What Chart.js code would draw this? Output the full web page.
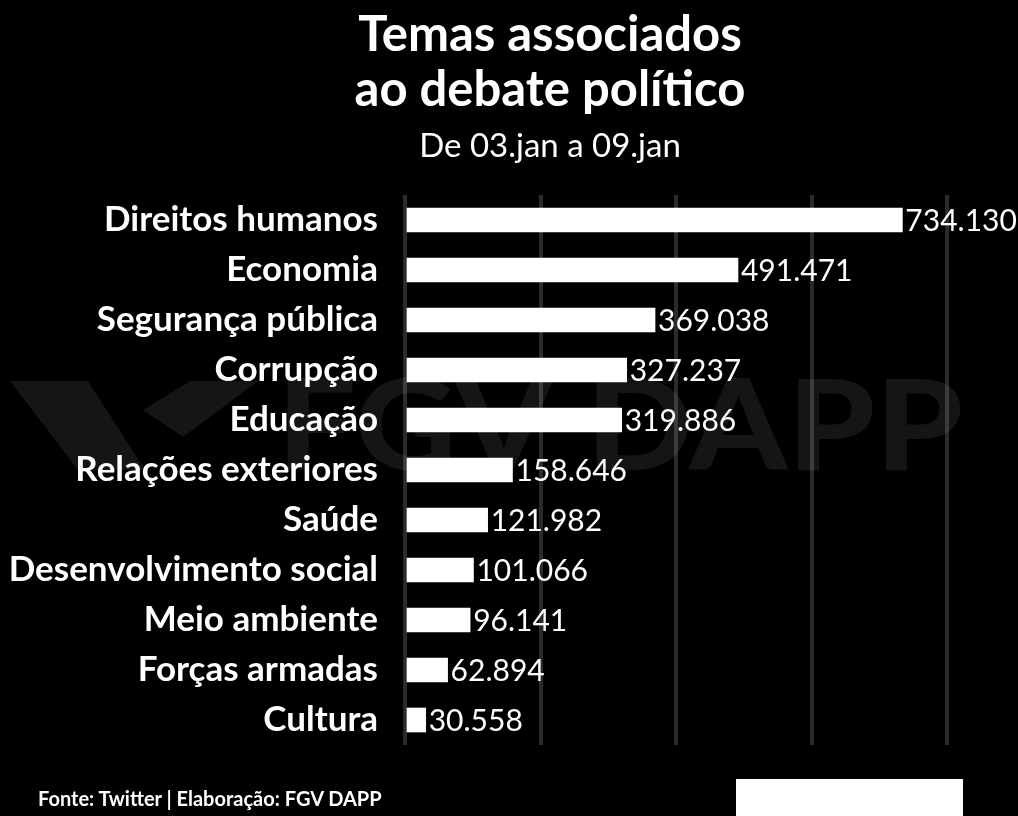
<!DOCTYPE html>
<html>
<head>
<meta charset="utf-8">
<script src="https://cdn.jsdelivr.net/npm/chart.js@4"></script>
<style>
  html, body { margin: 0; padding: 0; background: #000; }
  #wrap { position: relative; width: 1018px; height: 816px; overflow: hidden; background: #000; }
  #chart { position: absolute; left: 0; top: 0; }
  .txt { position: absolute; color: #fff; font-family: Lato, sans-serif; white-space: nowrap; }
  #title { left: 300px; width: 500px; top: 5px; text-align: center; font-weight: bold; font-size: 49px; line-height: 55px; }
  #subtitle { left: 300px; width: 500px; top: 124px; text-align: center; font-size: 33px; line-height: 40px; }
  #footer { left: 38px; top: 786px; font-weight: bold; font-size: 20px; line-height: 24px; }
  #box { position: absolute; left: 736px; top: 779px; width: 227px; height: 37px; background: #fff; }
</style>
</head>
<body>
<div id="wrap">
  <canvas id="chart" width="1018" height="816"></canvas>
  <div id="title" class="txt">Temas associados<br>ao debate político</div>
  <div id="subtitle" class="txt">De 03.jan a 09.jan</div>
  <div id="footer" class="txt">Fonte: Twitter | Elaboração: FGV DAPP</div>
  <div id="box"></div>
</div>
<script>
// Data
const categories = [
    'Direitos humanos',
    'Economia',
    'Segurança pública',
    'Corrupção',
    'Educação',
    'Relações exteriores',
    'Saúde',
    'Desenvolvimento social',
    'Meio ambiente',
    'Forças armadas',
    'Cultura'
];
const mentions = [734130, 491471, 369038, 327237, 319886, 158646, 121982, 101066, 96141, 62894, 30558];
const gridTicks = [0, 200000, 400000, 600000, 800000];

function formatBR(v) {
    return String(v).replace(/\B(?=(\d{3})+(?!\d))/g, '.');
}

// faint FGV DAPP watermark behind the grid
const watermark = {
    id: 'watermark',
    beforeDraw(chart) {
        const ctx = chart.ctx;
        ctx.save();
        ctx.fillStyle = '#151515';
        // logo
        ctx.beginPath();
        ctx.moveTo(10, 381);
        ctx.lineTo(88, 381);
        ctx.lineTo(145, 470);
        ctx.lineTo(78, 470);
        ctx.closePath();
        ctx.fill();
        ctx.beginPath();
        ctx.moveTo(143, 410);
        ctx.lineTo(190, 381);
        ctx.lineTo(258, 381);
        ctx.lineTo(183, 437);
        ctx.closePath();
        ctx.fill();
        // letters
        ctx.font = '900 125px Lato';
        ctx.textBaseline = 'alphabetic';
        const txt = 'FGV DAPP';
        const w = ctx.measureText(txt).width;
        ctx.translate(277, 470);
        ctx.scale(686 / w, 1);
        ctx.fillText(txt, 0, 0);
        ctx.restore();
    }
};

// value labels at the end of each bar
const valueLabels = {
    id: 'valueLabels',
    afterDatasetsDraw(chart) {
        const ctx = chart.ctx;
        const meta = chart.getDatasetMeta(0);
        ctx.save();
        ctx.font = '30px Lato';
        ctx.fillStyle = '#fff';
        ctx.textAlign = 'left';
        ctx.textBaseline = 'middle';
        meta.data.forEach((bar, i) => {
            ctx.fillText(formatBR(mentions[i]), bar.x + 3, bar.y + 1);
        });
        ctx.restore();
    }
};

const ctx = document.getElementById('chart');
new Chart(ctx, {
    type: 'bar',
    data: {
        labels: categories,
        datasets: [{
            data: mentions,
            backgroundColor: '#fff',
            borderWidth: 0,
            barThickness: 24
        }]
    },
    options: {
        indexAxis: 'y',
        responsive: false,
        animation: false,
        layout: {
            padding: { top: 195, bottom: 71, right: 71, left: 0 }
        },
        plugins: {
            legend: { display: false },
            tooltip: { enabled: false }
        },
        scales: {
            x: {
                min: 0,
                max: 800000,
                afterBuildTicks: (scale) => {
                    scale.ticks = gridTicks.map(v => ({ value: v }));
                },
                ticks: { display: false },
                grid: { color: 'rgba(255,255,255,0.17)', lineWidth: 4, drawTicks: false },
                border: { display: false },
                afterFit: (scale) => { scale.height = 0; }
            },
            y: {
                grid: { display: false, drawTicks: false },
                border: { display: false },
                ticks: {
                    color: '#fff',
                    padding: 27,
                    font: { family: 'Lato', size: 35, weight: 'bold' }
                },
                afterFit: (scale) => { scale.width = 405; }
            }
        }
    },
    plugins: [watermark, valueLabels]
});
</script>
</body>
</html>
